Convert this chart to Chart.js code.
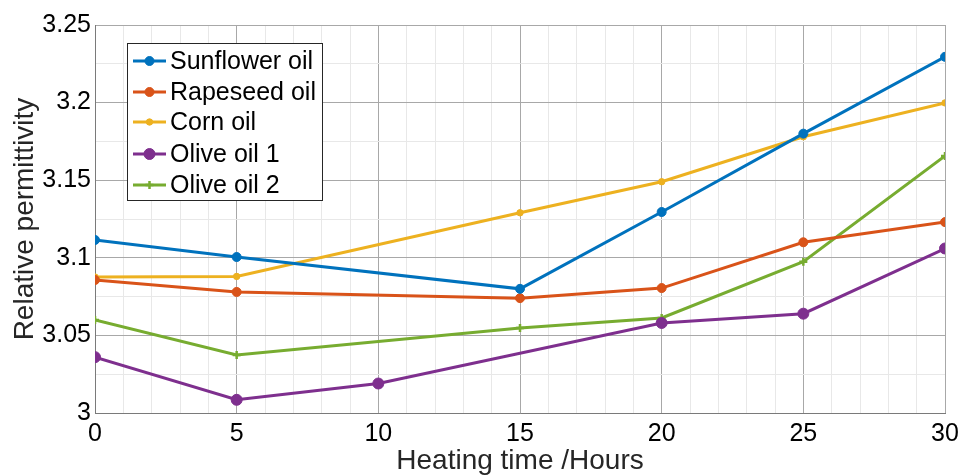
<!DOCTYPE html>
<html>
<head>
<meta charset="utf-8">
<script src="https://cdn.jsdelivr.net/npm/chart.js@4.4.1/dist/chart.umd.min.js"></script>
<style>
    html, body { margin: 0; padding: 0; background: #fff; }
    #wrap { width: 960px; height: 475px; position: relative; }
</style>
</head>
<body>
<div id="wrap"><canvas id="permChart"></canvas></div>
<script>
// heating time in hours; null where an oil was not measured
const hours = [0, 5, 10, 15, 20, 25, 30];
const sunflower = [3.1115, 3.1005, null, 3.0800, 3.1295, 3.1800, 3.2295];
const rapeseed = [3.0857, 3.0780, null, 3.0740, 3.0805, 3.1100, 3.1230];
const corn = [3.0876, 3.0880, null, 3.1290, 3.1490, 3.1780, 3.1998];
const olive1 = [3.0360, 3.0085, 3.0190, null, 3.0580, 3.0640, 3.1060];
const olive2 = [3.0600, 3.0374, null, 3.0548, 3.0612, 3.0975, 3.1656];

const seriesNames = ['Sunflower oil', 'Rapeseed oil', 'Corn oil', 'Olive oil 1', 'Olive oil 2'];
const seriesColors = ['#0072BD', '#D95319', '#EDB120', '#7E2F8E', '#77AC30'];
const yTickLabels = ['3', '3.05', '3.1', '3.15', '3.2', '3.25'];

const FONT = 'Liberation Sans, Arial, Helvetica, sans-serif';

function toPoints(vals) {
    const pts = [];
    hours.forEach((h, i) => {
        if (vals[i] !== null) {
            pts.push({ x: h, y: vals[i] });
        }
    });
    return pts;
}

const markerStyle = [
    { pointStyle: 'circle', radius: 4.5 },
    { pointStyle: 'circle', radius: 4.5 },
    { pointStyle: 'circle', radius: 3.2 },
    { pointStyle: 'circle', radius: 5.5 },
    { pointStyle: 'cross', radius: 4 }
];

const datasets = [sunflower, rapeseed, corn, olive1, olive2].map((vals, i) => ({
    label: seriesNames[i],
    data: toPoints(vals),
    borderColor: seriesColors[i],
    backgroundColor: seriesColors[i],
    borderWidth: 3,
    pointStyle: markerStyle[i].pointStyle,
    pointRadius: markerStyle[i].radius,
    pointBorderWidth: markerStyle[i].pointStyle === 'cross' ? 2.5 : 1,
    tension: 0
}));

// boxed legend in the upper-left corner of the plot area
const boxLegend = {
    id: 'boxLegend',
    afterDatasetsDraw(chart) {
        const ctx = chart.ctx;
        const left = 127, top = 43, right = 322, bottom = 200;
        const rowY = [61, 92, 122, 154, 185];
        ctx.save();
        ctx.fillStyle = '#ffffff';
        ctx.fillRect(left, top, right - left, bottom - top);
        ctx.strokeStyle = '#262626';
        ctx.lineWidth = 1;
        ctx.strokeRect(left + 0.5, top + 0.5, right - left, bottom - top);
        chart.data.datasets.forEach((ds, i) => {
            const y = rowY[i];
            ctx.strokeStyle = ds.borderColor;
            ctx.lineWidth = 3;
            ctx.beginPath();
            ctx.moveTo(133, y);
            ctx.lineTo(166, y);
            ctx.stroke();
            ctx.fillStyle = ds.backgroundColor;
            ctx.lineWidth = ds.pointBorderWidth;
            Chart.helpers.drawPoint(ctx, {
                pointStyle: ds.pointStyle,
                radius: ds.pointRadius,
                borderWidth: ds.pointBorderWidth,
                rotation: 0
            }, 149.5, y);
            ctx.fillStyle = '#000000';
            ctx.font = '25px ' + FONT;
            ctx.textBaseline = 'middle';
            ctx.textAlign = 'left';
            ctx.fillText(ds.label, 170, y + 1);
        });
        ctx.restore();
    }
};

new Chart(document.getElementById('permChart'), {
    type: 'line',
    data: { datasets },
    plugins: [boxLegend],
    options: {
        responsive: true,
        maintainAspectRatio: false,
        animation: false,
        layout: { padding: { left: 0, right: 15, top: 25, bottom: 0 } },
        plugins: {
            legend: { display: false },
            tooltip: { enabled: false }
        },
        scales: {
            x: {
                type: 'linear',
                min: 0,
                max: 30,
                afterFit: s => {
                    s.height = 62;
                    s.paddingLeft = 0;
                    s.paddingRight = 0;
                },
                ticks: {
                    stepSize: 1,
                    autoSkip: false,
                    maxRotation: 0,
                    padding: 6,
                    color: '#000',
                    font: { family: FONT, size: 25 },
                    callback: v => (v % 5 === 0 ? String(v) : '')
                },
                grid: {
                    drawTicks: false,
                    color: c => (c.tick && c.tick.value % 5 === 0 ? '#a8a8a8' : '#e8e8e8'),
                    lineWidth: 1
                },
                border: { display: true, color: '#7a7a7a', width: 1 },
                title: {
                    display: true,
                    text: 'Heating time /Hours',
                    color: '#262626',
                    font: { family: FONT, size: 28, lineHeight: 1 },
                    padding: 0
                }
            },
            y: {
                min: 3,
                max: 3.25,
                afterFit: s => { s.width = 95; },
                afterBuildTicks: s => {
                    s.ticks = [];
                    for (let i = 0; i <= 10; i++) {
                        s.ticks.push({ value: 3 + i * 0.025 });
                    }
                },
                ticks: {
                    padding: 4,
                    color: '#000',
                    font: { family: FONT, size: 25 },
                    callback: (v, i) => (i % 2 === 0 ? yTickLabels[i / 2] : '')
                },
                grid: {
                    drawTicks: false,
                    color: c => (c.index % 2 === 0 ? '#a8a8a8' : '#e8e8e8'),
                    lineWidth: 1
                },
                border: { display: true, color: '#7a7a7a', width: 1 },
                title: {
                    display: true,
                    text: 'Relative permittivity',
                    color: '#262626',
                    font: { family: FONT, size: 28, lineHeight: 1 },
                    padding: { top: 11, bottom: 0 }
                }
            }
        }
    }
});
</script>
</body>
</html>
